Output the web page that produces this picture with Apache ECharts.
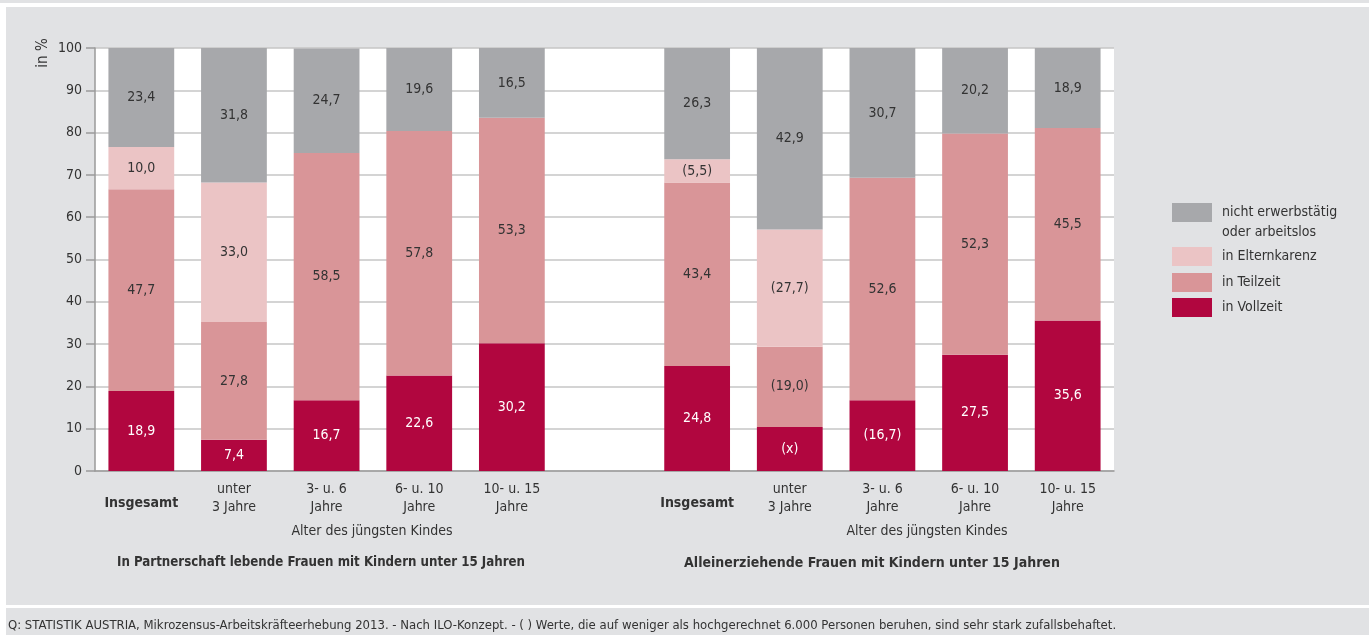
<!DOCTYPE html>
<html><head><meta charset="utf-8">
<script src="https://cdn.jsdelivr.net/npm/echarts@6/dist/echarts.min.js"></script>
<style>html,body{margin:0;padding:0;background:#fff}#c{width:1369px;height:635px}</style>
</head><body><div id="c"></div>
<script>
const categories = ['Insgesamt','unter\n3 Jahre','3- u. 6\nJahre','6- u. 10\nJahre','10- u. 15\nJahre','','Insgesamt','unter\n3 Jahre','3- u. 6\nJahre','6- u. 10\nJahre','10- u. 15\nJahre'];
const seriesNames = ['in Vollzeit','in Teilzeit','in Elternkarenz','nicht erwerbstätig'];
const vollzeit = [18.9, 7.4, 16.7, 22.6, 30.2, null, 24.8, 10.4, 16.7, 27.5, 35.6];
const teilzeit = [47.7, 27.8, 58.5, 57.8, 53.3, null, 43.4, 19.0, 52.6, 52.3, 45.5];
const elternkarenz = [10.0, 33.0, null, null, null, null, 5.5, 27.7, null, null, null];
const nichtErw = [23.4, 31.8, 24.7, 19.6, 16.5, null, 26.3, 42.9, 30.7, 20.2, 18.9];
const vollzeitLabels = ['18,9','7,4','16,7','22,6','30,2','','24,8','(x)','(16,7)','27,5','35,6'];
const teilzeitLabels = ['47,7','27,8','58,5','57,8','53,3','','43,4','(19,0)','52,6','52,3','45,5'];
const elternLabels = ['10,0','33,0','','','','','(5,5)','(27,7)','','',''];
const nichtLabels = ['23,4','31,8','24,7','19,6','16,5','','26,3','42,9','30,7','20,2','18,9'];
const yTicks = [0,10,20,30,40,50,60,70,80,90,100];
const groupTitles = ['In Partnerschaft lebende Frauen mit Kindern unter 15 Jahren','Alleinerziehende Frauen mit Kindern unter 15 Jahren'];
const axisTitle = 'Alter des jüngsten Kindes';
const footnote = 'Q: STATISTIK AUSTRIA, Mikrozensus-Arbeitskräfteerhebung 2013. - Nach ILO-Konzept. - ( ) Werte, die auf weniger als hochgerechnet 6.000 Personen beruhen, sind sehr stark zufallsbehaftet.';

const FONT = "'DejaVu Sans Condensed','Liberation Sans',Arial,sans-serif";
const TXT = '#333333';
const colors = ['#b1063f','#d99598','#ebc4c5','#a7a8ab'];
const panel = '#e1e2e4';

function mk(i, data, labels, labelColor){
  return {
    name: seriesNames[i], type:'bar', stack:'s', data:data, barWidth:'71%',
    itemStyle:{color:colors[i]},
    label:{show:true, position:'inside', color:labelColor, fontFamily:FONT, fontSize:14,
      formatter: p => labels[p.dataIndex]}
  };
}

const chart = echarts.init(document.getElementById('c'), null, {renderer:'canvas'});
const legendTops = [203, 247, 273, 298];
chart.setOption({
  animation:false,
  textStyle:{fontFamily:FONT},
  graphic:[
    {type:'rect', silent:true, z:-10, shape:{x:0,y:0,width:1369,height:635}, style:{fill:'#ffffff'}},
    {type:'rect', silent:true, z:-10, shape:{x:0,y:0,width:1369,height:3}, style:{fill:panel}},
    {type:'rect', silent:true, z:-10, shape:{x:6,y:7,width:1363,height:598}, style:{fill:panel}},
    {type:'rect', silent:true, z:-10, shape:{x:6,y:608,width:1363,height:27}, style:{fill:panel}},
    {type:'text', left:1222, top:225, style:{text:'oder arbeitslos', fill:TXT, font:'14px '+FONT}},
    {type:'text', x:43, y:53, rotation:Math.PI/2, style:{text:'in %', fill:TXT, font:'15px '+FONT, align:'center', verticalAlign:'middle'}},
    {type:'text', left:8, top:619, style:{text:footnote, fill:TXT, font:'13px '+FONT}},
    {type:'text', x:372, y:531, style:{text:axisTitle, fill:TXT, font:'14px '+FONT, align:'center', verticalAlign:'middle'}},
    {type:'text', x:927, y:531, style:{text:axisTitle, fill:TXT, font:'14px '+FONT, align:'center', verticalAlign:'middle'}},
    {type:'text', x:321, y:563, style:{text:groupTitles[0], fill:TXT, font:'bold 13.2px '+FONT, align:'center', verticalAlign:'middle'}},
    {type:'text', x:872, y:563, style:{text:groupTitles[1], fill:TXT, font:'bold 14px '+FONT, align:'center', verticalAlign:'middle'}}
  ],
  legend:[3,2,1,0].map((si,k)=>({
    data:[seriesNames[si]], orient:'vertical', left:1172, top:legendTops[k], padding:0,
    itemWidth:40, itemHeight:19, icon:'rect', selectedMode:false,
    formatter: n => n,
    textStyle:{color:TXT, fontSize:14, fontFamily:FONT, padding:[0,0,0,5]}
  })),
  grid:{left:95, right:255, top:48, bottom:164, show:true, backgroundColor:'#ffffff', borderWidth:0},
  xAxis:{type:'category', data:categories,
    axisLine:{lineStyle:{color:'#9a9a9a', width:1.5}}, axisTick:{show:false},
    axisLabel:{interval:0, color:TXT, fontSize:14, fontFamily:FONT, lineHeight:18, margin:9,
      formatter: v => v==='Insgesamt' ? '{b|Insgesamt}' : v,
      rich:{b:{fontWeight:'bold', fontSize:14, fontFamily:FONT, color:TXT, lineHeight:46}}}},
  yAxis:{type:'value', min:0, max:100, interval:10,
    axisLine:{show:true, lineStyle:{color:'#9a9a9a', width:1.5}},
    axisTick:{show:true, length:9, lineStyle:{color:'#9a9a9a', width:1.5}},
    splitLine:{lineStyle:{color:'#c6c6c6', width:1.5}},
    axisLabel:{color:TXT, fontSize:14, fontFamily:FONT, margin:13,
      formatter: v => yTicks.includes(v) ? String(v) : ''}},
  series:[
    mk(0, vollzeit, vollzeitLabels, '#ffffff'),
    mk(1, teilzeit, teilzeitLabels, TXT),
    mk(2, elternkarenz, elternLabels, TXT),
    mk(3, nichtErw, nichtLabels, TXT)
  ]
});
</script></body></html>
